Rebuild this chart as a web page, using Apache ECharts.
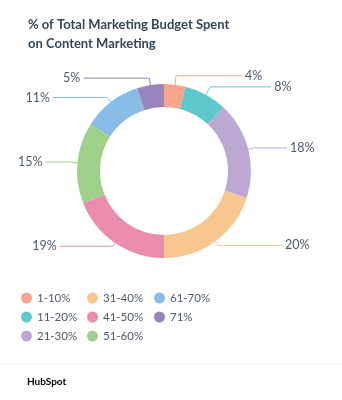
<!DOCTYPE html>
<html><head><meta charset="utf-8">
<script src="https://cdn.jsdelivr.net/npm/echarts@6/dist/echarts.min.js"></script>
<style>html,body{margin:0;padding:0;background:#fff}#c{width:342px;height:400px}</style>
</head><body><div id="c"></div>
<script>
const categories = ['1-10%','11-20%','21-30%','31-40%','41-50%','51-60%','61-70%','71%'];
const values = [4, 8, 18, 20, 19, 15, 11, 5];
const colors = ['#f8a58d','#5ec8cc','#bba9d4','#f6c78e','#e98cae','#a0d18b','#88bde7','#9985be'];
const titleText = '% of Total Marketing Budget Spent\non Content Marketing';
// leader line segment lengths per slice (styling)
const leadLen1 = [9, 9, 6, 5, 4, 8, 6, 7];
const leadLen2 = [66, 61, 33, 64, 53, 24, 54, 66];

const chart = echarts.init(document.getElementById('c'));
const legendBase = {
  orient: 'vertical', icon: 'circle', itemWidth: 11, itemHeight: 11, itemGap: 7,
  textStyle: { fontFamily: 'Lato', fontSize: 11.5, color: '#505a66' }, selectedMode: false
};
chart.setOption({
  animation: false,
  color: colors,
  title: { text: titleText, left: 23, top: 10,
    textStyle: { fontFamily: 'Lato', fontSize: 13, fontWeight: 'bold', color: '#33475b', lineHeight: 19 } },
  legend: [
    Object.assign({}, legendBase, { left: 16, top: 287, data: categories.slice(0,3) }),
    Object.assign({}, legendBase, { left: 82, top: 287, data: categories.slice(3,6) }),
    Object.assign({}, legendBase, { left: 149, top: 287, data: categories.slice(6) })
  ],
  graphic: [
    { type: 'line', shape: { x1: 0, y1: 364, x2: 342, y2: 364 }, style: { stroke: '#f1f1f1', lineWidth: 1 } },
    { type: 'text', left: 27, top: 377, style: { text: '{a|HubSp}{b|o}{a|t}',
      rich: { a: { fontFamily: 'Lato', fontSize: 10, fontWeight: 'bold', color: '#33475b' },
              b: { fontFamily: 'Lato', fontSize: 10, fontWeight: 'bold', color: '#ff7a59' } } } }
  ],
  series: [{
    type: 'pie',
    center: [164, 171],
    radius: [64, 87],
    startAngle: 90,
    clockwise: true,
    avoidLabelOverlap: false,
    data: categories.map((n, i) => ({ name: n, value: values[i],
      labelLine: { length: leadLen1[i], length2: leadLen2[i] } })),
    label: { formatter: '{c}%', fontFamily: 'Lato', fontSize: 12.5, color: '#505a66',
      alignTo: 'none', distanceToLabelLine: 3, overflow: 'none' },
    labelLine: { lineStyle: { width: 1 } },
    itemStyle: { borderWidth: 0 }
  }]
});
</script></body></html>
